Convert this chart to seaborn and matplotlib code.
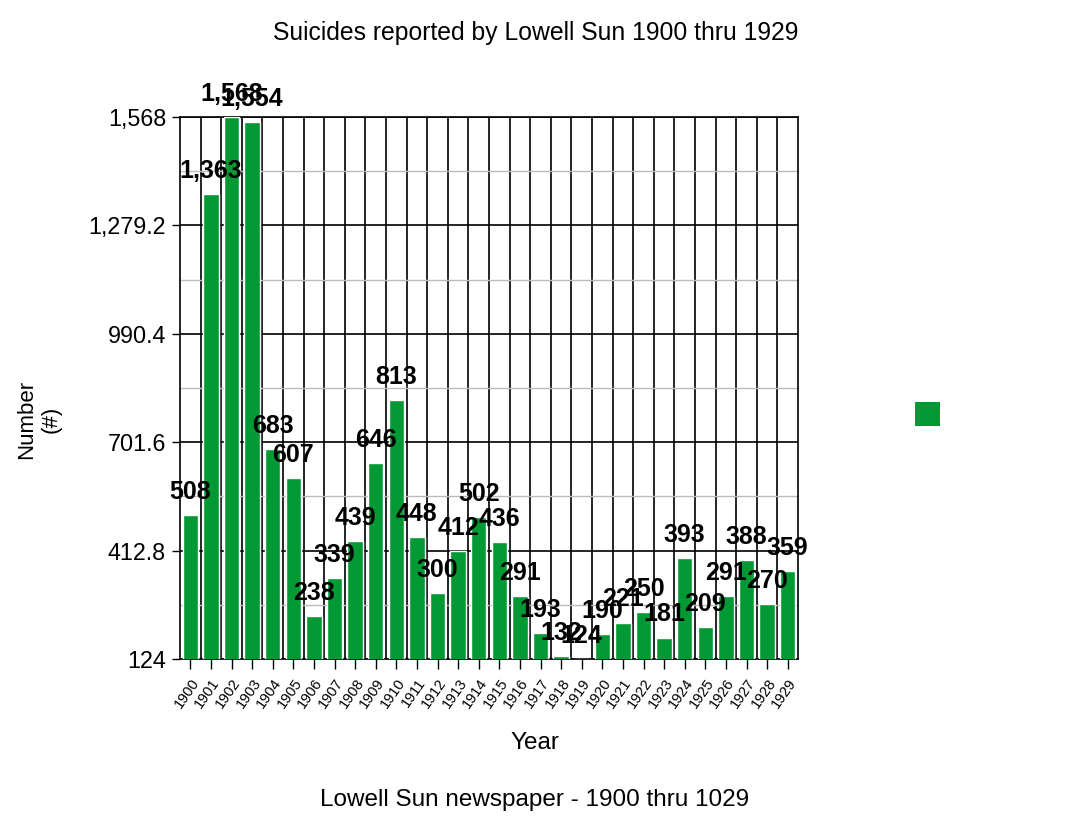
import matplotlib
matplotlib.use("Agg")
import matplotlib.pyplot as plt
import seaborn as sns
import pandas as pd
from matplotlib.patches import Patch
from matplotlib.ticker import FixedLocator

years = [str(y) for y in range(1900, 1930)]
values = [508, 1363, 1568, 1554, 683, 607, 238, 339, 439, 646,
          813, 448, 300, 412, 502, 436, 291, 193, 132, 124,
          190, 221, 250, 181, 393, 209, 291, 388, 270, 359]
ytick_vals = [124, 412.8, 701.6, 990.4, 1279.2, 1568]
ytick_labels = ["124", "412.8", "701.6", "990.4", "1,279.2", "1,568"]
yminor_vals = [268.4, 557.2, 846.0, 1134.8, 1423.6]

title = "Suicides reported by Lowell Sun 1900 thru 1929"
xlabel = "Year"
ylabel = "Number\n(#)"
caption = "Lowell Sun newspaper - 1900 thru 1029"
green = "#009933"

sns.set_style("white")
plt.rcParams['font.family'] = ['Liberation Sans', 'DejaVu Sans']
plt.rcParams['text.color'] = 'black'
plt.rcParams['xtick.color'] = 'black'
plt.rcParams['ytick.color'] = 'black'
plt.rcParams['axes.labelcolor'] = 'black'

df = pd.DataFrame({"year": years, "value": values})

fig = plt.figure(figsize=(10.65, 8.21), dpi=100)
ax = fig.add_axes([180/1065, 1-659/821, 618/1065, 542/821])

sns.barplot(data=df, x="year", y="value", color=green, width=0.75,
            edgecolor="white", linewidth=1, saturation=1, ax=ax, zorder=3)

ax.set_ylim(124, 1568)
ax.set_xlim(-0.5, len(years) - 0.5)
ax.set_yticks(ytick_vals)
ax.set_yticklabels(ytick_labels, fontsize=16.8)
ax.yaxis.set_minor_locator(FixedLocator(yminor_vals))
ax.xaxis.set_minor_locator(FixedLocator([i + 0.5 for i in range(len(years) - 1)]))
ax.set_xticks(range(len(years)))
ax.set_xticklabels(years, rotation=55, ha="right", va="top",
                   rotation_mode="anchor", fontsize=10.5)

ax.tick_params(axis="x", which="major", direction="out", length=7, width=1,
               color="black", bottom=True, pad=5)
ax.tick_params(axis="y", which="major", direction="out", length=6, width=1,
               color="black", left=True, pad=4)
ax.tick_params(which="minor", length=0)

ax.set_axisbelow(True)
ax.grid(True, axis="y", which="major", color="black", linewidth=1.2)
ax.grid(True, axis="y", which="minor", color="#bbbbbb", linewidth=1)
ax.grid(True, axis="x", which="minor", color="black", linewidth=1.2)
ax.grid(False, axis="x", which="major")

for s in ax.spines.values():
    s.set_color("black")
    s.set_linewidth(1.2)
    s.set_visible(True)

ax.set_xlabel("")
ax.set_ylabel("")

for i, v in enumerate(values):
    ax.annotate(f"{v:,}", xy=(i, v), xytext=(0, 8), textcoords="offset points",
                ha="center", va="bottom", fontsize=18, fontweight="bold",
                color="black", annotation_clip=False, zorder=5)

fig.text(536/1065, 1-33/821, title, ha="center", va="center", fontsize=17.8)
fig.text(535/1065, 1-743/821, xlabel, ha="center", va="center", fontsize=17.5)
fig.text(535/1065, 1-800/821, caption, ha="center", va="center", fontsize=17.5)
fig.text(39/1065, 1-419/821, ylabel, ha="center", va="center", rotation=90,
         fontsize=16, multialignment="center")

fig.legend(handles=[Patch(facecolor=green, edgecolor="none")], labels=[""],
           loc="center", bbox_to_anchor=(927/1065, 1-415/821), frameon=False,
           handlelength=1.0, handleheight=1.1, handletextpad=0, borderpad=0,
           fontsize=18)

fig.savefig("out.png", dpi=100)
